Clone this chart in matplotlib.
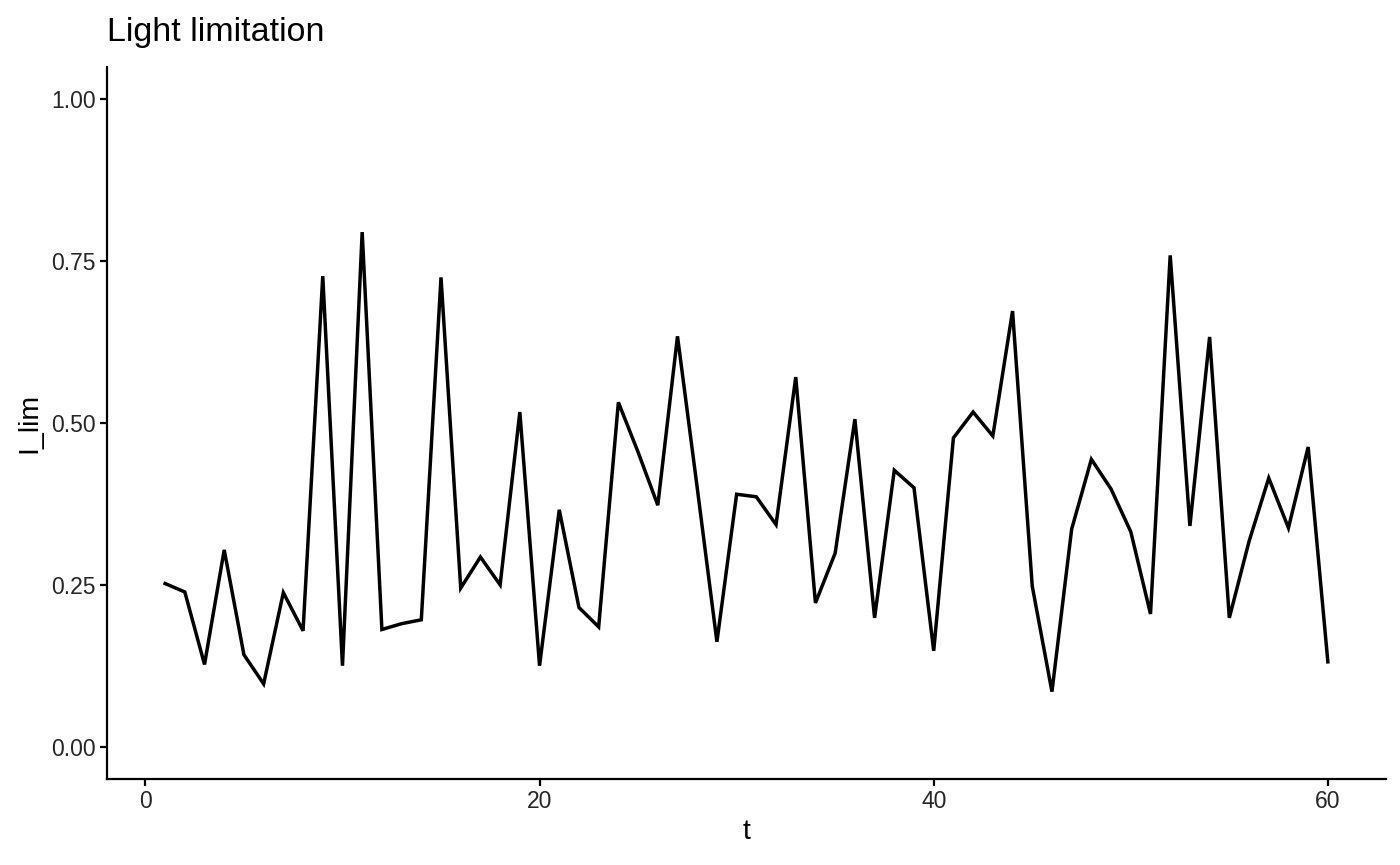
import numpy as np
import matplotlib.pyplot as plt

plt.rcParams['font.family'] = ['Liberation Sans', 'DejaVu Sans']

t = np.arange(1, 61)
I_lim = [0.252, 0.239, 0.127, 0.304, 0.142, 0.097, 0.238, 0.179, 0.727, 0.125,
         0.795, 0.181, 0.190, 0.196, 0.725, 0.245, 0.293, 0.250, 0.517, 0.125,
         0.366, 0.215, 0.185, 0.532, 0.455, 0.373, 0.634, 0.400, 0.162, 0.390,
         0.386, 0.343, 0.571, 0.222, 0.299, 0.506, 0.199, 0.427, 0.400, 0.148,
         0.477, 0.517, 0.480, 0.673, 0.248, 0.085, 0.336, 0.444, 0.398, 0.332,
         0.205, 0.759, 0.341, 0.633, 0.199, 0.317, 0.415, 0.338, 0.463, 0.131]

fig = plt.figure(figsize=(14, 8.65), dpi=100)
ax = fig.add_axes([0.0764, 0.0994, 0.9136, 0.8231])

ax.plot(t, I_lim, color='black', lw=2.5, solid_joinstyle='miter')

ax.set_xlim(-1.95, 62.95)
ax.set_ylim(-0.05, 1.05)
ax.set_xticks([0, 20, 40, 60])
ax.set_yticks([0, 0.25, 0.5, 0.75, 1.0])
ax.set_yticklabels(['0.00', '0.25', '0.50', '0.75', '1.00'])

for s in ['top', 'right']:
    ax.spines[s].set_visible(False)
for s in ['left', 'bottom']:
    ax.spines[s].set_linewidth(1.6)
ax.tick_params(length=5.2, width=1.6, color='black', labelsize=16.5,
               labelcolor='#262626', pad=3)

ax.set_xlabel('t', fontsize=20.5, labelpad=4)
ax.set_ylabel('I_lim', fontsize=20.5, labelpad=6)
ax.set_title('Light limitation', fontsize=24.5, loc='left', pad=19)

fig.savefig('out.png', dpi=100)
